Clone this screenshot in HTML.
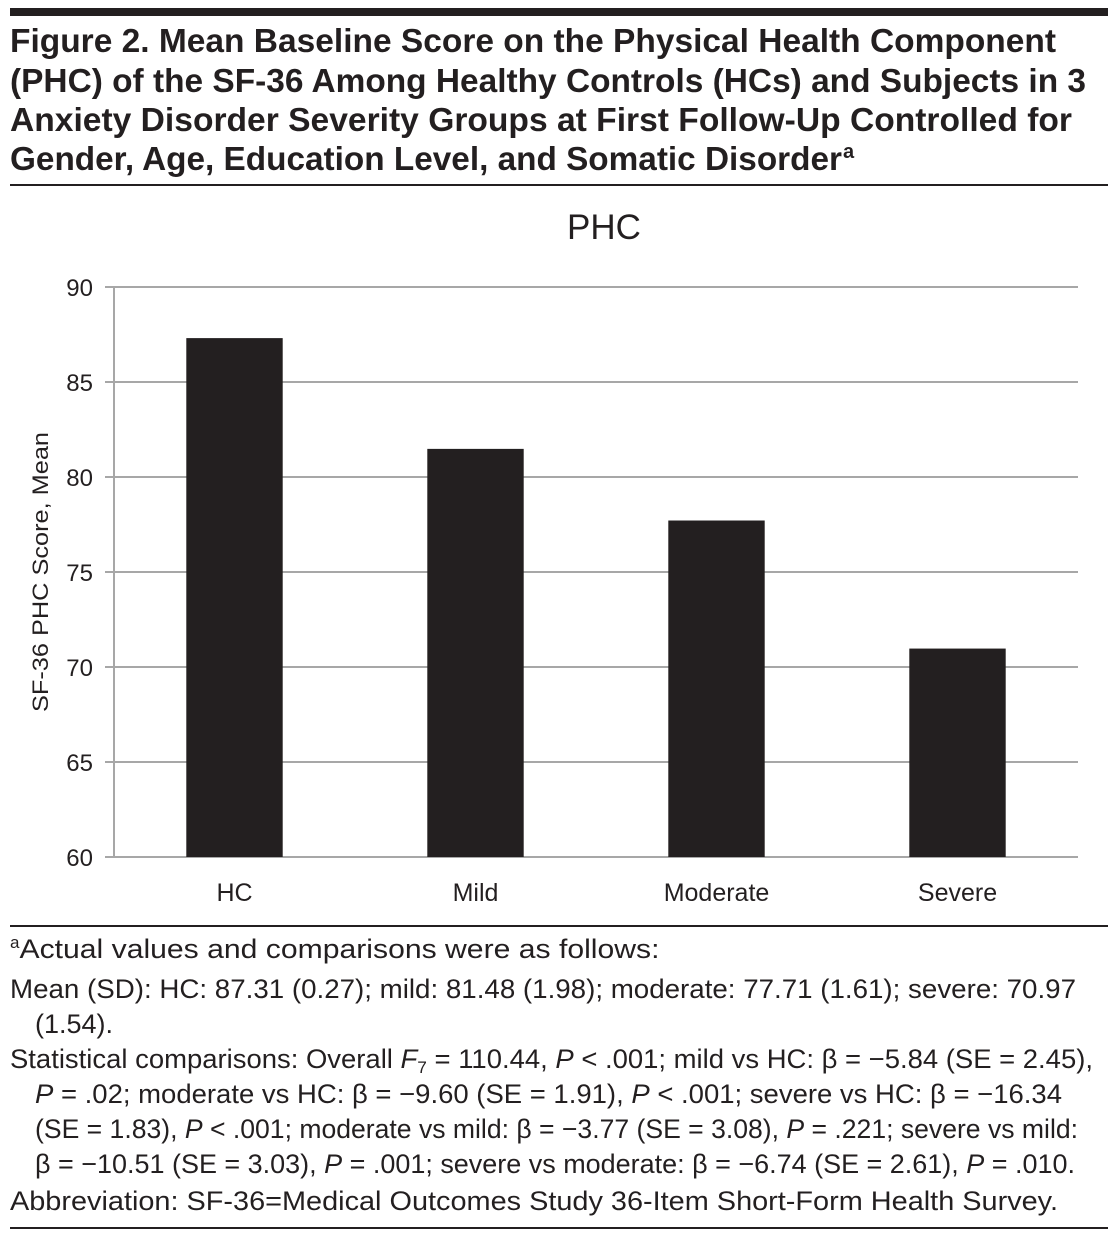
<!DOCTYPE html>
<html><head><meta charset="utf-8"><style>html,body{margin:0;padding:0;background:#fff}svg{display:block}</style></head>
<body>
<svg width="1118" height="1237" viewBox="0 0 1118 1237" xmlns="http://www.w3.org/2000/svg" font-family="Liberation Sans, sans-serif" fill="#231f20">
<rect x="10" y="8" width="1098" height="8" fill="#231f20"/>
<g font-weight="bold" font-size="33">
<text x="10" y="52" textLength="1046" lengthAdjust="spacingAndGlyphs">Figure 2. Mean Baseline Score on the Physical Health Component</text>
<text x="10" y="92" textLength="1076" lengthAdjust="spacingAndGlyphs">(PHC) of the SF-36 Among Healthy Controls (HCs) and Subjects in 3</text>
<text x="10" y="131" textLength="1062" lengthAdjust="spacingAndGlyphs">Anxiety Disorder Severity Groups at First Follow-Up Controlled for</text>
<text x="10" y="170" textLength="832" lengthAdjust="spacingAndGlyphs">Gender, Age, Education Level, and Somatic Disorder</text>
<text x="843" y="158" font-size="20">a</text>
</g>
<rect x="10" y="184" width="1098" height="2"/>
<text x="604" y="239" font-size="35" text-anchor="middle">PHC</text>
<g id="plot"></g>
<text transform="translate(48,572) rotate(-90)" font-size="22" text-anchor="middle" textLength="280" lengthAdjust="spacingAndGlyphs">SF-36 PHC Score, Mean</text>
<rect x="10" y="925" width="1098" height="2"/>
<g font-size="27">
<text x="10" y="958"><tspan font-size="17" dy="-10">a</tspan><tspan dy="10" textLength="640" lengthAdjust="spacingAndGlyphs">Actual values and comparisons were as follows:</tspan></text>
<text x="10" y="998" textLength="1066" lengthAdjust="spacingAndGlyphs">Mean (SD): HC: 87.31 (0.27); mild: 81.48 (1.98); moderate: 77.71 (1.61); severe: 70.97</text>
<text x="35" y="1033">(1.54).</text>
<text x="10" y="1068" textLength="1083" lengthAdjust="spacingAndGlyphs">Statistical comparisons: Overall <tspan font-style="italic">F</tspan><tspan font-size="17" dy="5">7</tspan><tspan dy="-5"> = 110.44, </tspan><tspan font-style="italic">P</tspan> &lt; .001; mild vs HC: β = −5.84 (SE = 2.45),</text>
<text x="35" y="1103" textLength="1027" lengthAdjust="spacingAndGlyphs"><tspan font-style="italic">P</tspan> = .02; moderate vs HC: β = −9.60 (SE = 1.91), <tspan font-style="italic">P</tspan> &lt; .001; severe vs HC: β = −16.34</text>
<text x="35" y="1138" textLength="1043" lengthAdjust="spacingAndGlyphs">(SE = 1.83), <tspan font-style="italic">P</tspan> &lt; .001; moderate vs mild: β = −3.77 (SE = 3.08), <tspan font-style="italic">P</tspan> = .221; severe vs mild:</text>
<text x="35" y="1173" textLength="1040" lengthAdjust="spacingAndGlyphs">β = −10.51 (SE = 3.03), <tspan font-style="italic">P</tspan> = .001; severe vs moderate: β = −6.74 (SE = 2.61), <tspan font-style="italic">P</tspan> = .010.</text>
<text x="10" y="1210" textLength="1048" lengthAdjust="spacingAndGlyphs">Abbreviation: SF-36=Medical Outcomes Study 36-Item Short-Form Health Survey.</text>
</g>
<rect x="10" y="1227" width="1098" height="2"/>
</svg>
<script>
const categories = ["HC", "Mild", "Moderate", "Severe"];
const values = [87.31, 81.48, 77.71, 70.97];
const yTicks = [60, 65, 70, 75, 80, 85, 90];
const NS = "http://www.w3.org/2000/svg";
const g = document.getElementById('plot');
const x0 = 114, x1 = 1078, yTop = 287, yBot = 857, yMin = 60, yMax = 90;
const band = (x1 - x0) / categories.length;
const yScale = v => yBot - (v - yMin) / (yMax - yMin) * (yBot - yTop);
const xCenter = i => x0 + band * (i + 0.5);
function mk(tag, attrs) { const e = document.createElementNS(NS, tag); for (const k in attrs) e.setAttribute(k, attrs[k]); g.appendChild(e); return e; }
yTicks.forEach(t => {
  const y = yScale(t);
  const l = mk('line', {x1: 105, x2: x1, y1: y, y2: y, stroke: '#a7a7a7', 'stroke-width': 2});
  
  
  const tx = mk('text', {x: 93, y: y + 9, 'font-size': 24, 'text-anchor': 'end'});
  tx.textContent = t;
  
  
});
const ax = mk('line', {x1: x0, x2: x0, y1: yTop, y2: yBot, stroke: '#a7a7a7', 'stroke-width': 2});


const bw = band * 0.4;
categories.forEach((c, i) => {
  const y = yScale(values[i]);
  const r = mk('rect', {x: xCenter(i) - bw / 2, y: y, width: bw, height: yBot - y, fill: '#231f20'});
  
  
  const tx = mk('text', {x: xCenter(i), y: 901, 'font-size': 25, 'text-anchor': 'middle'});
  tx.textContent = c;
  
  
});
</script>
</body></html>
